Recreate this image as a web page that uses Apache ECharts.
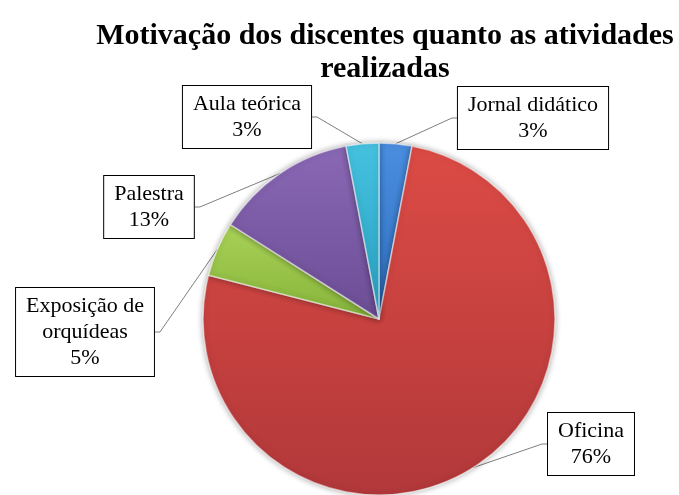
<!DOCTYPE html>
<html>
<head>
<meta charset="utf-8">
<script src="https://cdn.jsdelivr.net/npm/echarts@6/dist/echarts.min.js"></script>
<style>
  html, body { margin: 0; padding: 0; background: #fff; }
  #chart { width: 679px; height: 495px; }
</style>
</head>
<body>
<div id="chart"></div>
<script>
const titleText = 'Motivação dos discentes quanto as atividades\nrealizadas';
const categories = ['Jornal didático', 'Oficina', 'Exposição de orquídeas', 'Palestra', 'Aula teórica'];
const labelTexts = ['Jornal didático', 'Oficina', 'Exposição de\norquídeas', 'Palestra', 'Aula teórica'];
const percents = [3, 76, 5, 13, 3];

// slice colours: [light, dark]
const sliceColors = [
    ['#4a8ee0', '#2f6fbf'],
    ['#dc4b45', '#b2383a'],
    ['#a9d257', '#86b43a'],
    ['#8a68b5', '#6b4d95'],
    ['#45c2e0', '#2a9fc0']
];
// label box centres
const labelAnchors = [
    [533, 118],
    [591, 444],
    [85, 332],
    [149, 207],
    [247, 117]
];

const chart = echarts.init(document.getElementById('chart'), null, { renderer: 'canvas' });

const pieData = categories.map(function (name, i) {
    return {
        name: name,
        value: percents[i],
        itemStyle: {
            color: {
                type: 'linear', x: 0, y: 0, x2: 0, y2: 1,
                colorStops: [
                    { offset: 0, color: sliceColors[i][0] },
                    { offset: 1, color: sliceColors[i][1] }
                ]
            }
        }
    };
});

chart.setOption({
    animation: false,
    title: {
        text: titleText,
        left: 380,
        top: 15,
        textAlign: 'center',
        textStyle: {
            fontFamily: 'Liberation Serif',
            fontWeight: 'bold',
            fontSize: 30,
            lineHeight: 33,
            color: '#000'
        }
    },
    series: [{
        type: 'pie',
        center: [379, 319],
        radius: 176,
        startAngle: 90,
        clockwise: true,
        itemStyle: {
            borderColor: 'rgba(255,255,255,0.55)',
            borderWidth: 1.5,
            shadowBlur: 6,
            shadowColor: 'rgba(0,0,0,0.35)'
        },
        label: {
            show: true,
            position: 'outside',
            formatter: function (p) {
                return labelTexts[p.dataIndex] + '\n' + p.value + '%';
            },
            fontFamily: 'Liberation Serif',
            fontSize: 22,
            lineHeight: 26,
            color: '#000',
            align: 'center',
            backgroundColor: '#fff',
            borderColor: '#000',
            borderWidth: 1,
            padding: [5, 10]
        },
        labelLine: {
            show: true,
            length: 10,
            length2: 5,
            smooth: false,
            lineStyle: { color: '#7f7f7f', width: 1 }
        },
        labelLayout: function (params) {
            const a = labelAnchors[params.dataIndex];
            return { x: a[0], y: a[1], align: 'center', verticalAlign: 'middle' };
        },
        emphasis: { disabled: true },
        data: pieData
    }]
});
</script>
</body>
</html>
